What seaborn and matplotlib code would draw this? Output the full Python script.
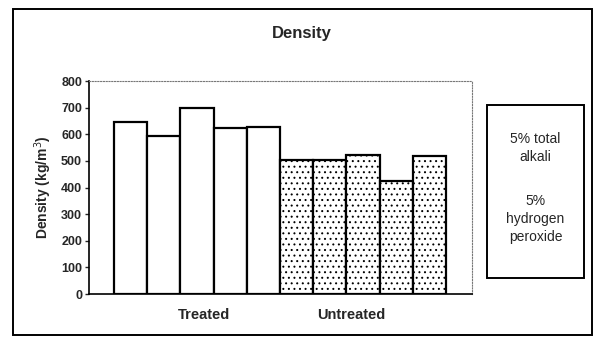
import matplotlib
matplotlib.use("Agg")
import matplotlib.pyplot as plt
from matplotlib.patches import Rectangle
import seaborn as sns
import pandas as pd

# Density per sample (kg/m^3)
samples = ["T1", "T2", "T3", "T4", "T5", "U1", "U2", "U3", "U4", "U5"]
groups = ["Treated"] * 5 + ["Untreated"] * 5
density = [645, 595, 700, 622, 626, 505, 505, 522, 425, 520]
group_labels = ["Treated", "Untreated"]
y_ticks = [0, 100, 200, 300, 400, 500, 600, 700, 800]
note_top = "5% total\nalkali"
note_bottom = "5%\nhydrogen\nperoxide"

df = pd.DataFrame({"sample": samples, "group": groups, "density": density})

sns.set_theme(style="white")
plt.rcParams["font.family"] = ["Liberation Sans", "DejaVu Sans"]
plt.rcParams["hatch.linewidth"] = 0.7

fig = plt.figure(figsize=(6.0, 3.44), dpi=100)
ax = fig.add_axes([0.1483, 0.1453, 0.7867 - 0.1483, 0.7645 - 0.1453])

sns.barplot(data=df, x="sample", y="density", order=samples, width=1.0,
            color="white", edgecolor="black", linewidth=1.6, ax=ax)

# light grey stipple on the untreated bars
for patch, grp in zip(ax.patches, groups):
    patch.set_facecolor("white")
    if grp == "Untreated":
        patch.set_hatch("...")
        if hasattr(patch, "set_hatchcolor"):
            patch.set_hatchcolor("#b5b5b5")

ax.set_xlim(-1.25, 10.28)
ax.set_ylim(0, 800)
ax.set_yticks(y_ticks)
ax.set_yticklabels([str(t) for t in y_ticks], fontsize=9, fontweight="bold")
ax.set_xticks([2.2, 6.65])
ax.set_xticklabels(group_labels, fontsize=10.5, fontweight="bold")
ax.tick_params(axis="x", length=0, pad=10)
ax.tick_params(axis="y", length=3, width=1, direction="out", left=True, pad=2)
ax.set_xlabel("")
ax.set_ylabel("Density (kg/m$^3$)", fontsize=10, fontweight="bold", labelpad=5)

for side in ["left", "bottom"]:
    ax.spines[side].set_color("black")
    ax.spines[side].set_linewidth(1.2)
for side in ["top", "right"]:
    ax.spines[side].set_color("#777777")
    ax.spines[side].set_linewidth(0.8)
    ax.spines[side].set_linestyle((0, (1, 1.5)))

fig.text(0.5033, 0.904, "Density", ha="center", va="center",
         fontsize=12, fontweight="bold")

# outer chart frame
fig.patches.append(Rectangle((13 / 600, 9 / 344), 579 / 600, 326 / 344,
                             transform=fig.transFigure, fill=False,
                             edgecolor="black", linewidth=1.4))

# side note box
fig.patches.append(Rectangle((487 / 600, 66 / 344), 97 / 600, 173 / 344,
                             transform=fig.transFigure, fill=False,
                             edgecolor="black", linewidth=1.4))
fig.text(535.5 / 600, (344 - 148) / 344, note_top, ha="center", va="center",
         fontsize=10, linespacing=1.35)
fig.text(535.5 / 600, (344 - 219) / 344, note_bottom, ha="center", va="center",
         fontsize=10, linespacing=1.35)

fig.savefig("out.png", dpi=100)
